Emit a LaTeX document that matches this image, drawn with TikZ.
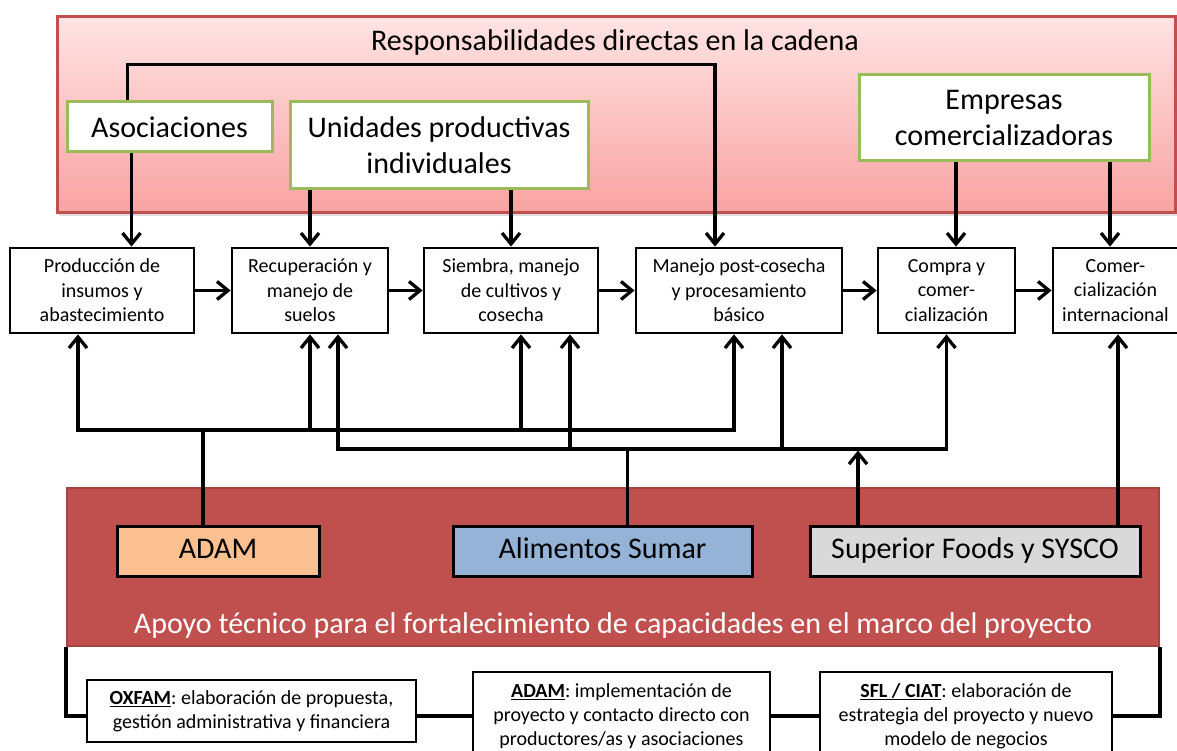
\documentclass[tikz,border=0pt]{standalone}
\usepackage{fontspec}
\setmainfont{Carlito}
\usetikzlibrary{arrows.meta,shadows}
\frenchspacing

\definecolor{rojo}{HTML}{C0504D}
\definecolor{rosaclaro}{HTML}{FFE3E3}
\definecolor{rosa}{HTML}{F8A3A2}
\definecolor{verde}{HTML}{9BBB59}
\definecolor{naranja}{HTML}{FAC090}
\definecolor{azul}{HTML}{95B3D7}
\definecolor{gris}{HTML}{D9D9D9}

\begin{document}
\begin{tikzpicture}[x=1pt,y=-1pt,
    cadena/.style={draw,line width=2.8pt,fill=white,align=center,inner sep=0pt,
        font=\fontsize{20}{24.5}\selectfont},
    actor/.style={draw=verde,line width=3pt,fill=white,align=center,inner sep=0pt,
        font=\fontsize{30}{36}\selectfont},
    apoyo/.style={draw,line width=3pt,inner sep=0pt,minimum height=50pt,
        text height=21pt,text depth=6pt,font=\fontsize{30}{36}\selectfont},
    socio/.style={draw,line width=2.8pt,fill=white,align=center,inner sep=0pt,
        font=\fontsize{20}{24}\selectfont},
    flecha/.style={line width=3.3pt,-{Straight Barb[length=11pt,width=18pt]}},
    linea/.style={line width=3.3pt},
]
    \useasboundingbox (0,0) rectangle (1177,751);

    % responsabilidades directas
    \node[draw=rojo,line width=3pt,top color=rosaclaro,bottom color=rosa,
        minimum width=1118pt,minimum height=196pt,
        drop shadow={opacity=0.25,shadow xshift=2pt,shadow yshift=-3pt}] (resp) at (616,115) {};
    \node[font=\fontsize{30}{36}\selectfont] (titulo) at (615,43) {Responsabilidades directas en la cadena};
    \node[actor,minimum width=205pt,minimum height=50pt] (asoc) at (169.5,127) {Asociaciones};
    \node[actor,minimum width=298pt,minimum height=87pt] (unid) at (439,145.5) {Unidades productivas\\individuales};
    \node[actor,minimum width=290pt,minimum height=86pt] (empr) at (1004,118) {Empresas\\comercializadoras};

    % cadena
    \node[cadena,minimum width=184pt,minimum height=85pt] (prod) at (102,290.5) {Producción de\\insumos y\\abastecimiento};
    \node[cadena,minimum width=156pt,minimum height=85pt] (recu) at (310,290.5) {Recuperación y\\manejo de\\suelos};
    \node[cadena,minimum width=174pt,minimum height=85pt] (siem) at (511,290.5) {Siembra, manejo\\de cultivos y\\cosecha};
    \node[cadena,minimum width=206pt,minimum height=85pt] (mane) at (739,290.5) {Manejo post-cosecha\\y procesamiento\\básico};
    \node[cadena,minimum width=137pt,minimum height=85pt] (comp) at (946.5,290.5) {Compra y\\comer-\\cialización};
    \node[cadena,minimum width=125pt,minimum height=85pt] (coin) at (1115.5,290.5) {Comer-\\cialización\\internacional};

    \draw[flecha] (prod) -- (recu);
    \draw[flecha] (recu) -- (siem);
    \draw[flecha] (siem) -- (mane);
    \draw[flecha] (mane) -- (comp);
    \draw[flecha] (comp) -- (coin);

    \draw[flecha] ([xshift=-42]asoc.north) -- ++(0,-36) -| ([xshift=-24]mane.north);
    \draw[flecha] ([xshift=-38]asoc.south) -- ([xshift=-38]asoc.south |- prod.north);
    \draw[flecha] (unid.south -| recu.north) -- (recu.north);
    \draw[flecha] (unid.south -| siem.north) -- (siem.north);
    \draw[flecha] ([xshift=-48]empr.south) -- ([xshift=-48]empr.south |- comp.north);
    \draw[flecha] ([xshift=106]empr.south) -- ([xshift=106]empr.south |- coin.north);

    % apoyo tecnico
    \node[draw=rojo!85!black,line width=2pt,fill=rojo,
        minimum width=1092pt,minimum height=158pt] (marco) at (613,567) {};
    \node[text=white,font=\fontsize{30}{36}\selectfont] (marcotxt) at (613,625)
        {Apoyo técnico para el fortalecimiento de capacidades en el marco del proyecto};
    \node[apoyo,fill=naranja,minimum width=202pt] (adam) at (218,551) {ADAM};
    \node[apoyo,fill=azul,minimum width=299pt] (alim) at (602.5,551) {Alimentos Sumar};
    \node[apoyo,fill=gris,minimum width=330pt] (supe) at (975,551) {Superior Foods y SYSCO};

    \coordinate (b1) at (0,430);
    \coordinate (b2) at (0,449);

    \draw[linea] ([xshift=-15]adam.north) -- ([xshift=-15]adam.north |- b1);
    \draw[flecha] ([xshift=-15]adam.north |- b1) -| ([xshift=-24]prod.south);
    \draw[flecha] ([xshift=-15]adam.north |- b1) -| ([xshift=-5]mane.south);
    \draw[flecha] (recu.south |- b1) -- (recu.south);
    \draw[flecha] ([xshift=10]siem.south |- b1) -- ([xshift=10]siem.south);

    \draw[linea] ([xshift=25]alim.north) -- ([xshift=25]alim.north |- b2);
    \draw[flecha] ([xshift=25]alim.north |- b2) -| ([xshift=28]recu.south);
    \draw[flecha] ([xshift=25]alim.north |- b2) -| (comp.south);
    \draw[flecha] ([xshift=59]siem.south |- b2) -- ([xshift=59]siem.south);
    \draw[flecha] ([xshift=43]mane.south |- b2) -- ([xshift=43]mane.south);

    \draw[flecha] ([xshift=-117]supe.north) -- ([xshift=-117,yshift=-1.5]supe.north |- b2);
    \draw[flecha] ([xshift=143]supe.north) -- ([xshift=143]supe.north |- coin.south);

    % socios
    \node[socio,minimum width=329pt,minimum height=62pt] (oxf) at (251.5,711)
        {\textbf{\underline{OXFAM}}: elaboración de propuesta,\\gestión administrativa y financiera};
    \node[socio,minimum width=297pt,minimum height=88pt] (adamb) at (621.5,716)
        {\textbf{\underline{ADAM}}: implementación de\\proyecto y contacto directo con\\productores/as y asociaciones};
    \node[socio,minimum width=292pt,minimum height=88pt] (sfl) at (966,716)
        {\textbf{\underline{SFL / CIAT}}: elaboración de\\estrategia del proyecto y nuevo\\modelo de negocios};

    \draw[linea] (marco.south west) |- (adamb.west -| oxf.west);
    \draw[linea] (adamb.west -| oxf.east) -- (adamb.west);
    \draw[linea] (adamb.east) -- (sfl.west);
    \draw[linea] (sfl.east) -| (marco.south east);
\end{tikzpicture}
\end{document}
